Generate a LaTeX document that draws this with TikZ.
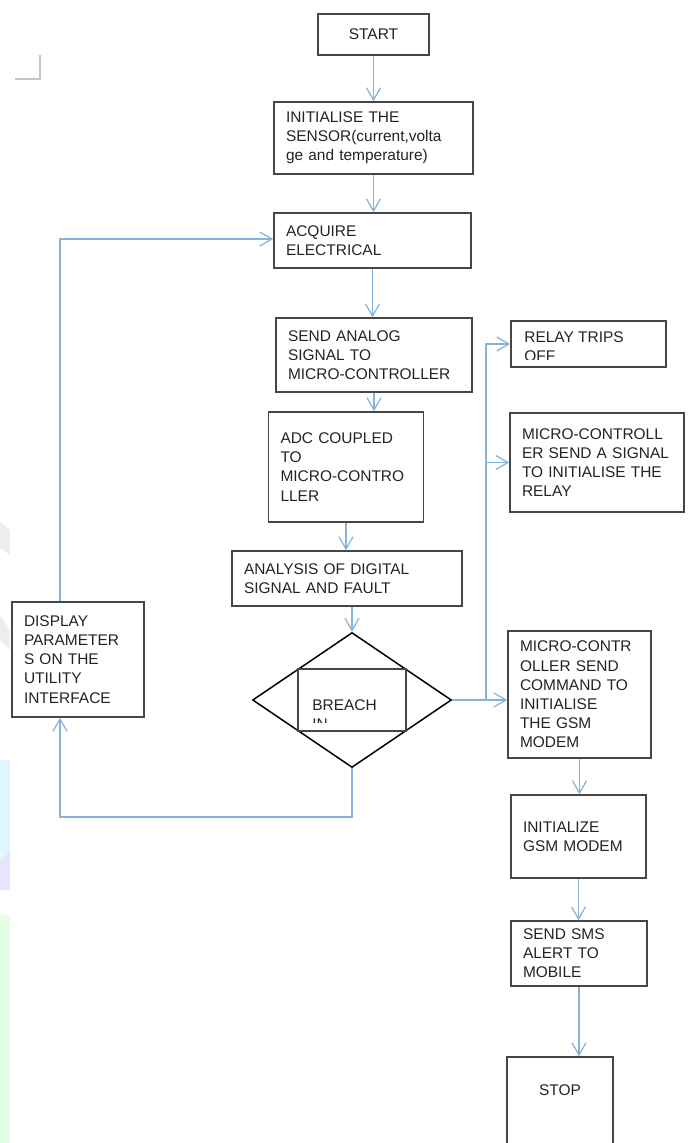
\documentclass[tikz,border=0pt]{standalone}
\usepackage{fontspec}
\setmainfont{Liberation Sans}
\usetikzlibrary{shapes.geometric}
\usetikzlibrary{arrows.meta}

\definecolor{flowblue}{RGB}{135,178,218}
\definecolor{boxgray}{RGB}{70,70,70}
\definecolor{txtgray}{RGB}{35,35,35}

\begin{document}
\begin{tikzpicture}[x=0.02cm, y=-0.02cm,
	blk/.style={draw=boxgray, line width=0.85pt, rectangle, align=left, inner xsep=0.24cm, inner ysep=0pt, text=txtgray, font=\fontsize{8.8}{10.9}\selectfont},
	txt/.style={inner sep=0pt, text=txtgray, font=\fontsize{8.8}{10.9}\selectfont},
	flow/.style={draw=flowblue, line width=0.7pt, -{Straight Barb[length=7pt,width=8pt]}},
	plain/.style={draw=flowblue, line width=0.7pt}]
				\useasboundingbox (0,0) rectangle (693,1143);
				\clip (0,0) rectangle (693,1143);
				
				% faint marks of the page
				\fill[gray!13] (0,522) -- (10,530) -- (10,555) -- (0,548) -- cycle;
				\fill[gray!13] (0,615) -- (10,630) -- (10,650) -- (0,640) -- cycle;
				\fill[cyan!12] (0,760) rectangle (10,890);
				\fill[blue!10] (0,862) -- (10,850) -- (10,890) -- (0,890) -- cycle;
				\fill[green!10] (0,915) rectangle (10,1143);
				\draw[gray!45, line width=0.8pt] (15,79) -- (40,79) -- (40,55);
				
				\node[blk, align=center, text width=1.74cm, minimum height=0.82cm] (start) at (373.5,34.5) {START};
				\node[blk, text width=3.50cm, minimum height=1.44cm] (init) at (373.5,138) {INITIALISE THE\\SENSOR(current,volta\\ge and temperature)};
				\node[blk, text width=3.46cm, minimum height=1.10cm] (acquire) at (372.5,240.5) {ACQUIRE\\ELECTRICAL};
				\node[blk, text width=3.44cm, minimum height=1.48cm] (send) at (374,355) {SEND ANALOG\\SIGNAL TO\\MICRO-CONTROLLER};
				\node[blk, text width=2.62cm, minimum height=2.20cm] (adc) at (346,467) {ADC COUPLED\\TO\\MICRO-CONTRO\\LLER};
				\node[blk, text width=4.12cm, minimum height=1.10cm] (analysis) at (347,578.5) {ANALYSIS OF DIGITAL\\SIGNAL AND FAULT};
				\node[diamond, draw=black, line width=0.85pt, minimum width=3.98cm, minimum height=2.70cm, inner sep=0pt] (breach) at (352,700) {};
				\node[draw=boxgray, line width=0.85pt, minimum width=2.16cm, minimum height=1.24cm, inner sep=0pt] (breachbox) at (352,700) {};
				\node[blk, text width=2.16cm, minimum height=2.30cm] (display) at (78,659.5) {DISPLAY\\PARAMETER\\S ON THE\\UTILITY\\INTERFACE};
				
				\node[blk, minimum width=3.10cm, minimum height=0.92cm] (relay) at (588.5,344) {};
				\node[blk, text width=3.00cm, minimum height=1.98cm] (relaysig) at (597,462.5) {MICRO-CONTROLL\\ER SEND A SIGNAL\\TO INITIALISE THE\\RELAY};
				\node[blk, text width=2.38cm, minimum height=2.54cm] (gsmcmd) at (579.5,694.5) {MICRO-CONTR\\OLLER SEND\\COMMAND TO\\INITIALISE\\THE GSM\\MODEM};
				\node[blk, text width=2.22cm, minimum height=1.66cm] (initgsm) at (578.5,836.5) {INITIALIZE\\GSM MODEM};
				\node[blk, text width=2.24cm, minimum height=1.30cm] (sms) at (579,953.5) {SEND SMS\\ALERT TO\\MOBILE};
				\node[blk, minimum width=2.12cm, minimum height=2.26cm] (stop) at (560,1113.5) {};
				\node[txt] (stoptxt) at (560,1090) {STOP};
				
				% texts cut by their boxes
				\begin{scope}
					\clip (298,660) rectangle (406,722);
					\node[txt, anchor=base west] (breachtxt) at (312,710) {BREACH};
					\node[txt, anchor=base west] (intxt) at (312,729) {IN};
				\end{scope}
				\begin{scope}
					\clip (511,321) rectangle (666,359);
					\node[txt, anchor=base west] (relaytxt) at (524,342) {RELAY TRIPS};
					\node[txt, anchor=base west] (offtxt) at (524,361) {OFF};
				\end{scope}
				
				\coordinate (ltop) at (60,239);
				\coordinate (lbot) at (60,817);
				\coordinate (fork) at (486,700);
				
				\draw[flow] (start) -- (init);
				\draw[flow] (init.south) -- (init.south |- acquire.north);
				\draw[flow] (acquire.south) -- (acquire.south |- send.north);
				\draw[flow] (send.south) -- (send.south |- adc.north);
				\draw[flow] (adc.south) -- (adc.south |- analysis.north);
				\draw[flow] (analysis.south -| breach.north) -- (breach.north);
				\draw[flow] (breach.south) |- (lbot) -- (lbot |- display.south);
				\draw[flow] (ltop |- display.north) -- (ltop) -- (acquire.west |- ltop);
				\draw[plain] (breach.east) -- (fork);
				\draw[flow] (fork) -- (fork -| gsmcmd.west);
				\draw[flow] (fork) |- (relay.west);
				\draw[flow] (fork |- relaysig.west) -- (relaysig.west);
				\draw[flow] (gsmcmd.south) -- (gsmcmd.south |- initgsm.north);
				\draw[flow] (initgsm.south) -- (initgsm.south |- sms.north);
				\draw[flow] (sms.south) -- (sms.south |- stop.north);
			\end{tikzpicture}
\end{document}
